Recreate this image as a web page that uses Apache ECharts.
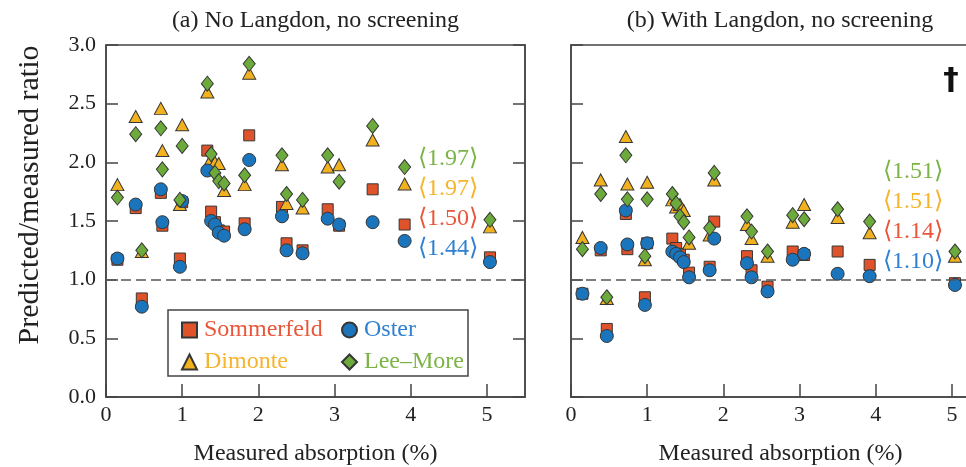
<!DOCTYPE html>
<html>
<head>
<meta charset="utf-8">
<script src="https://cdn.jsdelivr.net/npm/echarts@6/dist/echarts.min.js"></script>
<style>
  html, body { margin: 0; padding: 0; background: #fff; }
  #chart { width: 966px; height: 467px; }
</style>
</head>
<body>
<div id="chart"></div>
<script>
// Measured absorption (%) of each shot, shared by both panels
const absorption = [0.15, 0.39, 0.47, 0.72, 0.74, 1.00, 0.97, 1.33, 1.38, 1.43, 1.48, 1.55,
                    1.88, 1.82, 2.31, 2.37, 2.58, 2.91, 3.06, 3.50, 3.92, 5.04];

// (a) No Langdon, no screening: predicted/measured ratio per model
const sommerfeldA = [1.17, 1.61, 0.84, 1.74, 1.46, 1.66, 1.18, 2.10, 1.58, 1.49, 1.42, 1.41,
                     2.23, 1.48, 1.62, 1.31, 1.25, 1.60, 1.46, 1.77, 1.47, 1.19];
const dimonteA    = [1.81, 2.39, 1.24, 2.46, 2.10, 2.32, 1.64, 2.60, 2.03, 2.00, 1.99, 1.76,
                     2.76, 1.81, 1.98, 1.65, 1.61, 1.96, 1.98, 2.19, 1.815, 1.45];
const osterA      = [1.18, 1.64, 0.77, 1.77, 1.49, 1.67, 1.11, 1.93, 1.50, 1.47, 1.40, 1.375,
                     2.02, 1.43, 1.54, 1.25, 1.225, 1.52, 1.47, 1.49, 1.33, 1.15];
const leeMoreA    = [1.70, 2.24, 1.25, 2.29, 1.94, 2.14, 1.68, 2.67, 2.07, 1.91, 1.84, 1.82,
                     2.84, 1.89, 2.06, 1.73, 1.68, 2.06, 1.835, 2.31, 1.96, 1.51];

// (b) With Langdon, no screening
const sommerfeldB = [0.88, 1.25, 0.58, 1.56, 1.26, 1.31, 0.85, 1.35, 1.27, 1.22, 1.17, 1.06,
                     1.495, 1.11, 1.20, 1.08, 0.94, 1.24, 1.21, 1.24, 1.126, 0.97];
const dimonteB    = [1.36, 1.85, 0.84, 2.22, 1.815, 1.83, 1.17, 1.68, 1.62, 1.64, 1.59, 1.31,
                     1.85, 1.38, 1.47, 1.35, 1.20, 1.49, 1.64, 1.53, 1.40, 1.20];
const osterB      = [0.88, 1.27, 0.52, 1.59, 1.30, 1.31, 0.785, 1.24, 1.22, 1.19, 1.15, 1.02,
                     1.35, 1.08, 1.14, 1.02, 0.90, 1.17, 1.22, 1.05, 1.03, 0.955];
const leeMoreB    = [1.26, 1.73, 0.85, 2.06, 1.685, 1.685, 1.20, 1.73, 1.65, 1.54, 1.49, 1.36,
                     1.91, 1.44, 1.54, 1.41, 1.24, 1.55, 1.515, 1.60, 1.495, 1.24];

// Mean ratios, listed Lee-More, Dimonte, Sommerfeld, Oster
const meansA = ['1.97', '1.97', '1.50', '1.44'];
const meansB = ['1.51', '1.51', '1.14', '1.10'];

const panelTitles = ['(a) No Langdon, no screening', '(b) With Langdon, no screening'];
const xTitle = 'Measured absorption (%)';
const yTitle = 'Predicted/measured ratio';

const SERIF = 'Liberation Serif, Times New Roman, serif';
const AXIS = '#444';
const EDGE = '#363636';

const models = {
  Sommerfeld: { symbol: 'rect', size: 11, fill: '#e0532a', text: '#e8573a' },
  Dimonte:    { symbol: 'triangle', size: [13, 12], fill: '#f2b11f', text: '#f5b42c' },
  Oster:      { symbol: 'circle', size: 13, fill: '#1b75bc', text: '#2f80d0' },
  'Lee\u2013More': { symbol: 'diamond', size: [12, 15], fill: '#6caa3c', text: '#7bb446' }
};
const meanColors = [models['Lee\u2013More'].text, models.Dimonte.text, models.Sommerfeld.text, models.Oster.text];

const pairs = ys => absorption.map((x, i) => [x, ys[i]]);

function scatter(name, ys, gi) {
  const m = models[name];
  return {
    type: 'scatter', name, xAxisIndex: gi, yAxisIndex: gi === 0 ? 0 : 2,
    symbol: m.symbol, symbolSize: m.size,
    itemStyle: { color: m.fill, borderColor: EDGE, borderWidth: 1, opacity: 1 },
    emphasis: { disabled: true },
    data: pairs(ys)
  };
}

function refLine() {
  return {
    silent: true, symbol: ['none', 'none'], label: { show: false },
    lineStyle: { color: '#555', width: 1.5, type: [10, 5] },
    data: [{ yAxis: 1 }]
  };
}

const series = [
  scatter('Sommerfeld', sommerfeldA, 0),
  scatter('Dimonte', dimonteA, 0),
  scatter('Oster', osterA, 0),
  scatter('Lee\u2013More', leeMoreA, 0),
  scatter('Sommerfeld', sommerfeldB, 1),
  scatter('Dimonte', dimonteB, 1),
  scatter('Oster', osterB, 1),
  scatter('Lee\u2013More', leeMoreB, 1)
];
series[0].markLine = refLine();
series[4].markLine = refLine();

function xAxis(gi) {
  return {
    gridIndex: gi, type: 'value', min: 0, max: 5.5, interval: 1,
    axisLine: { lineStyle: { color: AXIS, width: 1.5 } },
    axisTick: { inside: true, length: 13, lineStyle: { color: AXIS, width: 1.5 } },
    axisLabel: { margin: 7, fontFamily: SERIF, fontSize: 22, color: '#222', showMaxLabel: false,
                 formatter: v => (Number.isInteger(v) ? String(v) : '') },
    splitLine: { show: false },
    name: xTitle, nameLocation: 'middle', nameGap: 45,
    nameTextStyle: { fontFamily: SERIF, fontSize: 24, color: '#222' }
  };
}

function yAxis(gi, opts) {
  return Object.assign({
    gridIndex: gi, type: 'value', min: 0, max: 3, interval: 0.5,
    axisLine: { show: true, lineStyle: { color: AXIS, width: 1.5 } },
    axisTick: { show: true, inside: true, length: 12, lineStyle: { color: AXIS, width: 1.5 } },
    axisLabel: { show: false },
    splitLine: { show: false }
  }, opts);
}

const graphics = [];
// panel headings
[[315.5, 21], [780, 21]].forEach((p, i) => graphics.push({
  type: 'text', x: p[0], y: p[1], silent: true,
  style: { text: panelTitles[i], fontFamily: SERIF, fontSize: 24, fill: '#222', align: 'center', verticalAlign: 'middle' }
}));
// vertical axis title
graphics.push({
  type: 'text', x: 30, y: 195, rotation: Math.PI / 2, silent: true,
  style: { text: yTitle, fontFamily: SERIF, fontSize: 30, fill: '#222', align: 'center', verticalAlign: 'middle' }
});
// mean ratio annotations
[[448, meansA], [913, meansB]].forEach(([cx, vals], k) => {
  const top = k === 0 ? 159 : 172;
  vals.forEach((v, i) => graphics.push({
    type: 'text', x: cx, y: top + i * 30, silent: true,
    style: { text: '\u27E8' + v + '\u27E9', fontFamily: SERIF, fontSize: 24, fill: meanColors[i], align: 'center', verticalAlign: 'middle' }
  }));
});
// dagger mark on panel (b)
graphics.push({
  type: 'text', x: 951, y: 81, silent: true,
  style: { text: '\u2020', fontFamily: 'DejaVu Sans', fontWeight: 'bold', fontSize: 31, fill: '#111', align: 'center', verticalAlign: 'middle' }
});
// legend frame
graphics.push({
  type: 'rect', silent: true,
  shape: { x: 168, y: 310, width: 300, height: 66 },
  style: { fill: '#fff', stroke: AXIS, lineWidth: 1.5 }, z: 5
});

const legendBase = {
  orient: 'vertical', top: 313, itemWidth: 15, itemHeight: 15, itemGap: 8, z: 10,
  textStyle: { fontFamily: SERIF, fontSize: 24, padding: [0, 0, 0, 2] }
};

const option = {
  animation: false,
  backgroundColor: '#fff',
  // panel (b) is wider than the page and runs past its right edge
  grid: [
    { left: 106, top: 45, width: 419, height: 352, show: true, borderColor: AXIS, borderWidth: 1.5,
      backgroundColor: 'transparent', outerBoundsMode: 'none' },
    { left: 571, top: 45, width: 419, height: 352, show: true, borderColor: AXIS, borderWidth: 1.5,
      backgroundColor: 'transparent', outerBoundsMode: 'none' }
  ],
  xAxis: [xAxis(0), xAxis(1)],
  yAxis: [
    yAxis(0, { axisLabel: { show: true, margin: 10, fontFamily: SERIF, fontSize: 22, color: '#222', formatter: v => v.toFixed(1) } }),
    yAxis(0, { position: 'right' }),
    yAxis(1, {})
  ],
  legend: [
    Object.assign({}, legendBase, { left: 176, data: ['Sommerfeld', 'Dimonte'].map(n => ({ name: n, textStyle: { color: models[n].text } })) }),
    Object.assign({}, legendBase, { left: 336, data: ['Oster', 'Lee\u2013More'].map(n => ({ name: n, textStyle: { color: models[n].text } })) })
  ],
  graphic: graphics,
  series
};

const chart = echarts.init(document.getElementById('chart'), null, { renderer: 'canvas' });
chart.setOption(option);
</script>
</body>
</html>
